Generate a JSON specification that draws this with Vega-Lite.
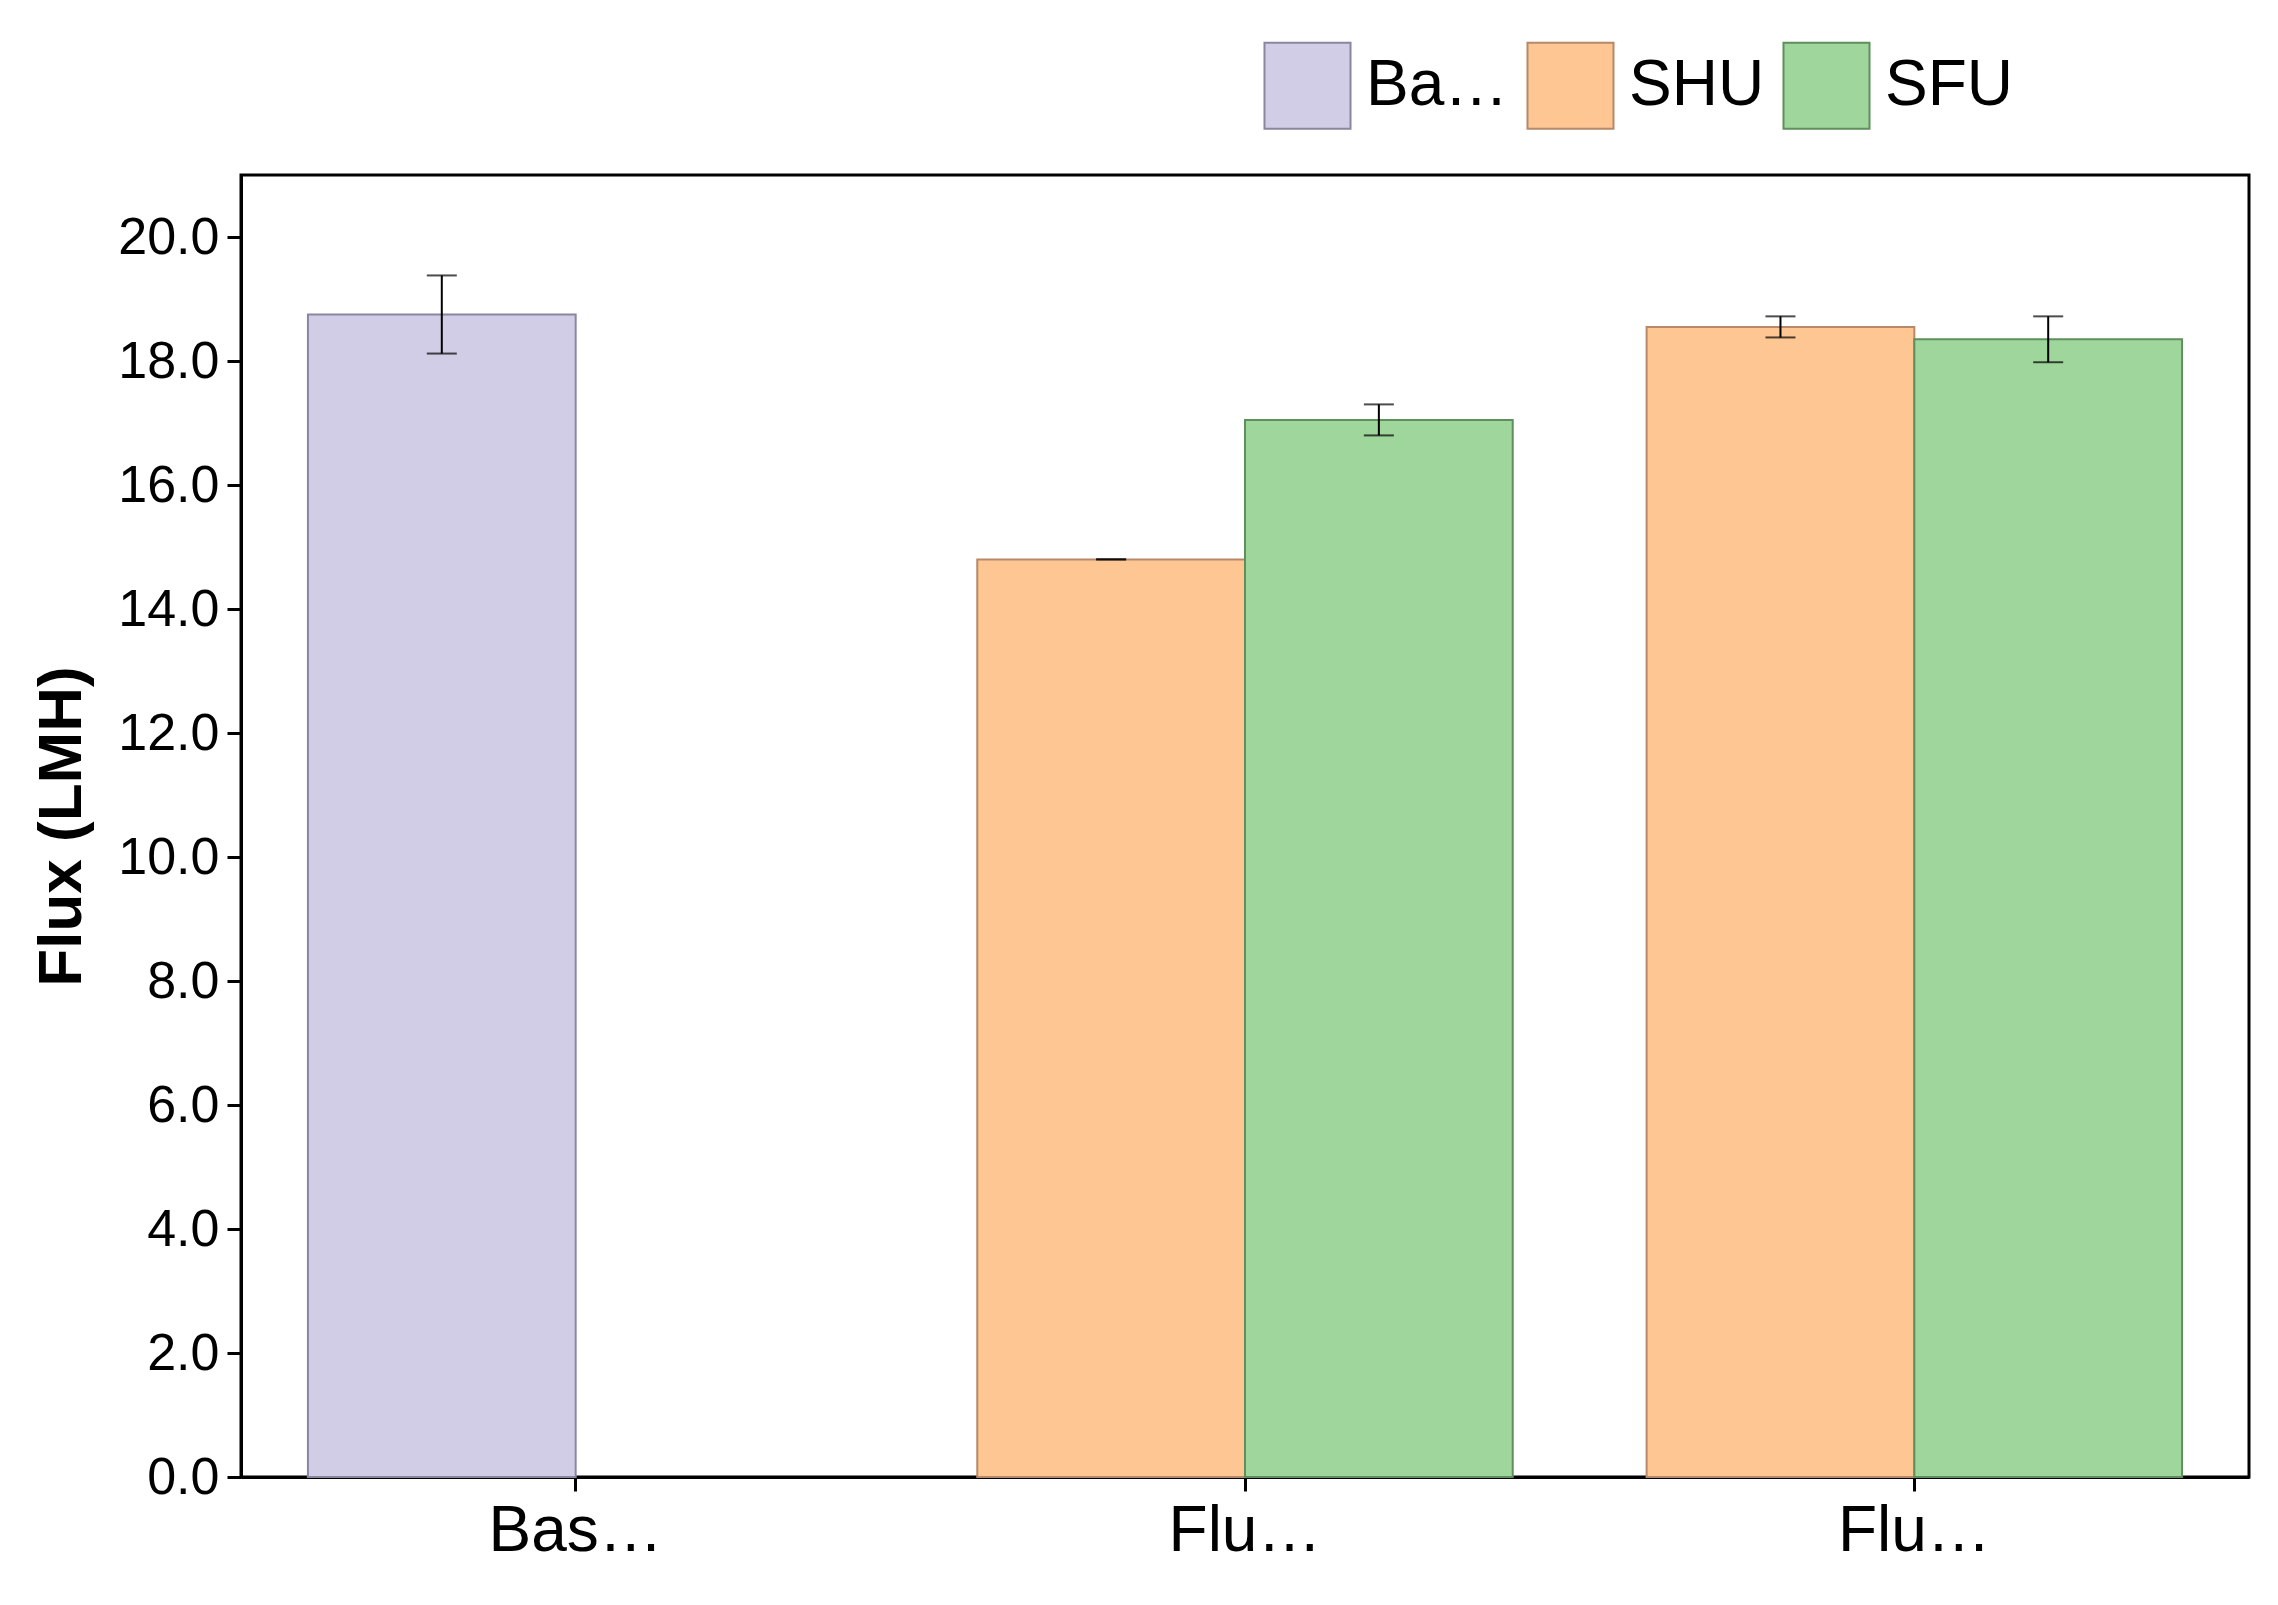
{
  "$schema": "https://vega.github.io/schema/vega-lite/v6.json",
  "width": 2008,
  "height": 1302,
  "autosize": "none",
  "padding": {"left": 241, "top": 175, "right": 29, "bottom": 128},
  "background": "white",
  "config": {
    "font": "Liberation Sans",
    "view": {"stroke": "#000", "strokeWidth": 3},
    "axis": {"grid": false, "domainColor": "#000", "domainWidth": 3, "tickColor": "#000", "tickWidth": 3, "tickSize": 14, "labelColor": "#000"}
  },
  "data": {"values": [
    {"group": "Baseline", "series": "Baseline", "slot": "a", "flux": 18.75, "lo": 18.12, "hi": 19.38},
    {"group": "Flux after scaling", "series": "SHU", "slot": "a", "flux": 14.8, "lo": 14.8, "hi": 14.8},
    {"group": "Flux after scaling", "series": "SFU", "slot": "b", "flux": 17.05, "lo": 16.8, "hi": 17.3},
    {"group": "Flux after cleaning", "series": "SHU", "slot": "a", "flux": 18.55, "lo": 18.38, "hi": 18.72},
    {"group": "Flux after cleaning", "series": "SFU", "slot": "b", "flux": 18.35, "lo": 17.98, "hi": 18.72}
  ]},
  "encoding": {
    "x": {"field": "group", "type": "nominal", "sort": ["Baseline", "Flux after scaling", "Flux after cleaning"],
      "scale": {"paddingInner": 0.2, "paddingOuter": 0.1},
      "axis": {"title": null, "labelAngle": 0, "labelFontSize": 64, "labelPadding": 8}},
    "xOffset": {"field": "slot", "type": "nominal", "scale": {"domain": ["a", "b"], "paddingInner": 0}}
  },
  "layer": [
    {
      "mark": {"type": "bar", "strokeWidth": 2},
      "encoding": {
        "y": {"field": "flux", "type": "quantitative", "scale": {"domain": [0, 21], "nice": false},
          "axis": {"values": [0, 2, 4, 6, 8, 10, 12, 14, 16, 18, 20], "title": "Flux (LMH)", "titleFontSize": 62, "titleFontWeight": "bold", "titlePadding": 24, "labelFontSize": 52, "labelPadding": 8}},
        "fill": {"field": "series", "type": "nominal",
          "scale": {"domain": ["Baseline", "SHU", "SFU"], "range": ["#d2cde6", "#fdc692", "#9fd69c"]},
          "legend": {"title": null, "orient": "none", "legendX": 1022, "legendY": -134, "direction": "horizontal",
            "symbolType": "square", "symbolSize": 7400, "symbolStrokeWidth": 2, "labelFontSize": 64, "labelColor": "#000", "columnPadding": 14, "labelOffset": 14, "symbolOpacity": 1}},
        "stroke": {"field": "series", "type": "nominal",
          "scale": {"domain": ["Baseline", "SHU", "SFU"], "range": ["#8a86a0", "#b5896a", "#5f8f5c"]}, "legend": null}
      }
    },
    {
      "mark": {"type": "rule", "color": "#000", "strokeWidth": 2},
      "encoding": {"y": {"field": "lo", "type": "quantitative"}, "y2": {"field": "hi"}}
    },
    {
      "mark": {"type": "tick", "color": "#000", "thickness": 2, "size": 30},
      "encoding": {"y": {"field": "lo", "type": "quantitative"}}
    },
    {
      "mark": {"type": "tick", "color": "#000", "thickness": 2, "size": 30},
      "encoding": {"y": {"field": "hi", "type": "quantitative"}}
    }
  ]
}
